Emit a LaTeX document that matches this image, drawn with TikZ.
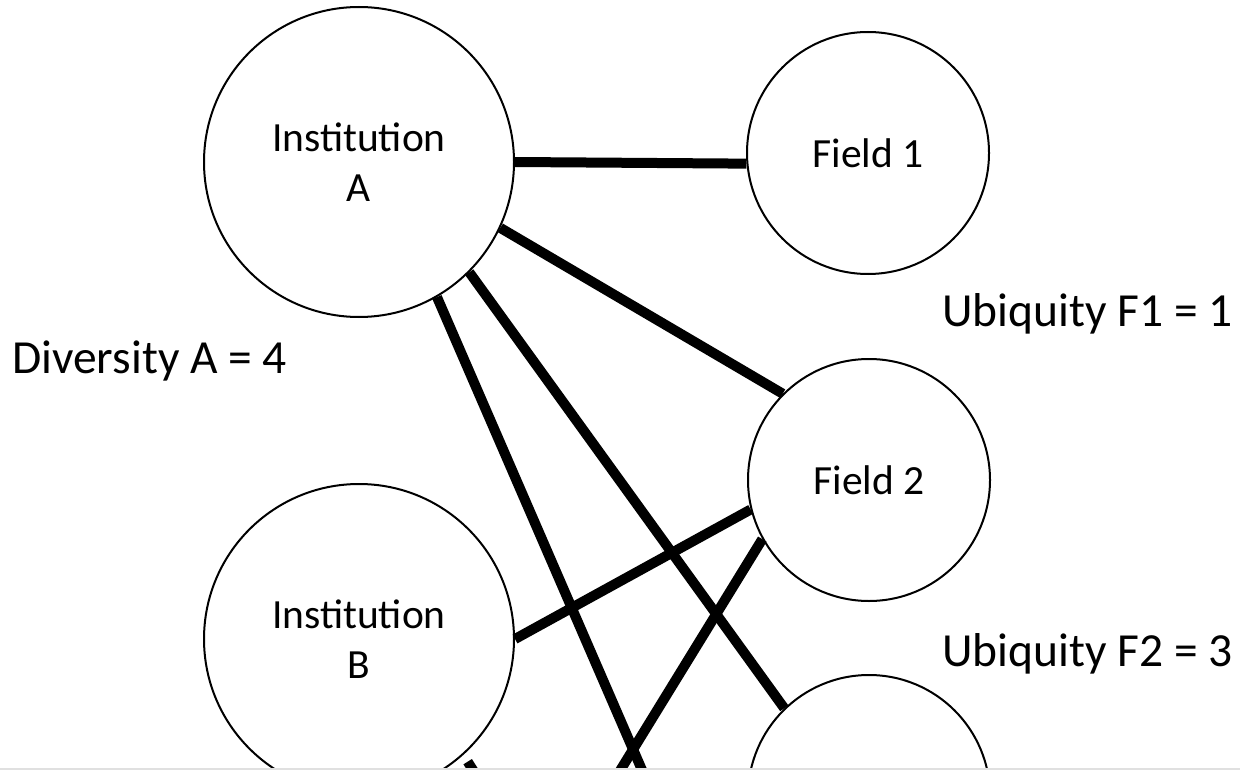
\documentclass[tikz,border=0pt]{standalone}
\usepackage{fontspec}
\setmainfont{Carlito}
\begin{document}
\begin{tikzpicture}[x=1pt,y=-1pt,
  inst/.style={circle,draw,line width=2pt,minimum size=310pt,inner sep=0pt,align=center,
    font=\fontsize{41.5}{50}\selectfont},
  field/.style={circle,draw,line width=2pt,minimum size=242pt,inner sep=0pt,align=center,
    font=\fontsize{41.5}{50}\selectfont},
  lab/.style={anchor=base west,inner sep=0pt,font=\fontsize{47.5}{56}\selectfont},
  link/.style={line width=10pt,line cap=butt}]
\clip (0,0) rectangle (1240,770);
\fill[white] (0,0) rectangle (1240,770);
\node[inst] (A) at (359,162) {Institution\\A};
\node[inst] (B) at (359,639) {Institution\\B};
\node[field] (F1) at (868,153) {Field 1};
\node[field] (F2) at (869,480) {Field 2};
\node[field] (F3) at (869,796) {};
\coordinate (offA) at (655,800);
\coordinate (offF) at (602,800);
\coordinate (offB) at (492,800);
\node[lab] (divA) at (12,373) {Diversity A = 4};
\node[lab] (ubF1) at (942,326) {Ubiquity F1 = 1};
\node[lab] (ubF2) at (942,666) {Ubiquity F2 = 3};
\draw[link] (A.0) -- (F1.185);
\draw[link] (A.-25) -- (F2.135);
\draw[link] (A.-45) -- (F3.134);
\draw[link] (A.-60) -- (offA);
\draw[link] (B.0) -- (F2.194);
\draw[link] (F2.209) -- (offF);
\draw[link,shorten <=8pt] (B.-48) -- (offB);
\draw[black!12,line width=1.5pt] (0,769) -- (1240,769);
\end{tikzpicture}
\end{document}
